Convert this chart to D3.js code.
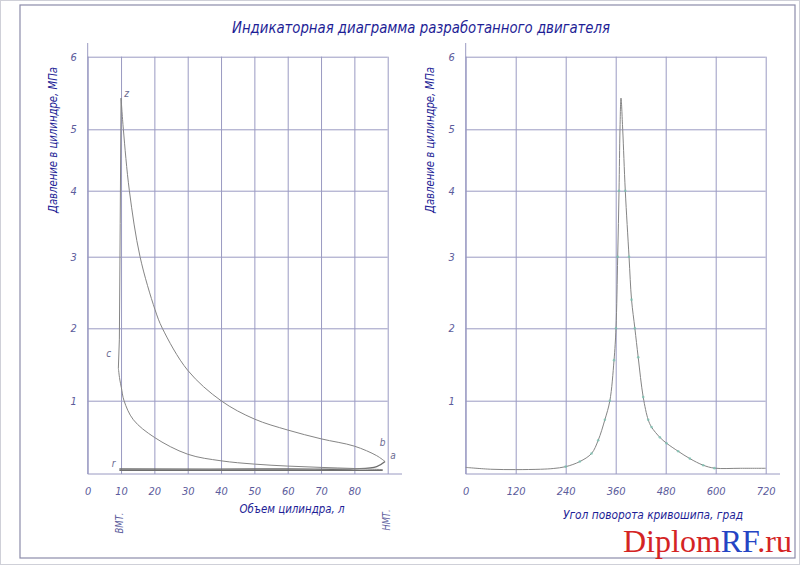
<!DOCTYPE html>
<html>
<head>
<meta charset="utf-8">
<script src="https://cdn.jsdelivr.net/npm/d3@7"></script>
<style>
  body { margin: 0; background: #fff; }
  svg text { font-family: "DejaVu Sans Condensed", "DejaVu Sans", sans-serif; font-style: italic; }
</style>
</head>
<body>
<script>
// --- values ---
const pressureTicks = [1, 2, 3, 4, 5, 6];                       // МПа
const volumeTicks = [0, 10, 20, 30, 40, 50, 60, 70, 80, 90];    // л
const angleTicks = [0, 120, 240, 360, 480, 600, 720];           // град

// indicator diagram p-V, one array per process [V, p]
const intake = [[9.5, 0.05], [88.5, 0.05]];
const compression = [[88.5, 0.06], [80, 0.075], [70, 0.09], [60, 0.108], [50, 0.135], [40, 0.18],
  [30, 0.27], [20, 0.5], [13.7, 0.74], [10.9, 1.0], [10.1, 1.18], [9.6, 1.3], [9.2, 1.45]];
const combustion = [[9.2, 1.45], [9.5, 1.85], [9.75, 3.5], [10.0, 5.43]];
const expansion = [[10.0, 5.43], [10.7, 5.0], [12.5, 4.0], [15.7, 3.0], [20.2, 2.26], [22.4, 2.0],
  [30, 1.42], [40, 1.0], [50, 0.75], [60, 0.6], [70, 0.48], [80, 0.38], [86.7, 0.25], [89.2, 0.17]];
const exhaust = [[89.2, 0.17], [86.7, 0.10], [80, 0.07], [60, 0.068], [9.5, 0.068]];

// pressure vs crank angle [deg, p]
const crankCurve = [[0, 0.09], [60, 0.065], [120, 0.06], [180, 0.065], [210, 0.075], [240, 0.1],
  [274, 0.17], [302, 0.28], [318, 0.46], [334, 0.74], [346, 1.0], [356, 1.56], [360.7, 2.0],
  [364.8, 3.0], [368, 4.0], [370.3, 5.0], [372.7, 5.43], [376.8, 5.0], [383, 4.0], [392, 3.0],
  [398, 2.4], [406, 2.0], [414, 1.6], [426, 1.05], [438, 0.74], [446, 0.64], [466, 0.5],
  [482, 0.42], [510, 0.31], [538, 0.21], [570, 0.12], [597, 0.08], [660, 0.078], [720, 0.078]];

// point labels of the cycle [text, V, p]
const cycleLabels = [["z", 11.7, 5.45], ["c", 6.3, 1.6], ["r", 7.8, 0.1], ["b", 88.5, 0.38], ["a", 91.6, 0.2]];

const titleText = "Индикаторная диаграмма разработанного двигателя";
const yTitle = "Давление в цилиндре, МПа";
const xTitleLeft = "Объем цилиндра, л";
const xTitleRight = "Угол поворота кривошипа, град";

// --- drawing ---
const gridColor = "#9a9ac2";
const curveColor = "#858585";
const labelColor = "#5c5c9c";
const titleColor = "#1e1e96";

const svg = d3.select("body").append("svg")
    .attr("width", 800)
    .attr("height", 565);

// sheet frame
svg.append("rect").attr("x", 0.5).attr("y", 0.5).attr("width", 799).attr("height", 564)
    .attr("fill", "none").attr("stroke", "#cfd0d8");
svg.append("rect").attr("x", 20).attr("y", 5).attr("width", 775).attr("height", 553)
    .attr("fill", "none").attr("stroke", "#8c8caa").attr("stroke-width", 1.2);

// the drawing's pressure grid is not evenly spaced, so the scale follows it
const yP = d3.scaleLinear()
    .domain([0, 1, 2, 3, 4, 5, 6])
    .range([474, 400.7, 328.3, 256.7, 190.7, 129.3, 56.7]);
const xV = d3.scaleLinear().domain([0, 90]).range([87.7, 387.7]);
const xA = d3.scaleLinear().domain([0, 720]).range([465.7, 765.7]);

function styleAxis(g) {
    g.select(".domain").remove();
    g.attr("font-family", null).attr("font-size", 11);
    g.selectAll(".tick line").attr("stroke", gridColor);
    g.selectAll(".tick text").attr("fill", labelColor);
}

function drawPanel(x, lastX, axisEnd, ticks, hideLast) {
    svg.append("g")
        .attr("transform", "translate(0," + yP(0) + ")")
        .call(d3.axisBottom(x).tickValues(ticks)
            .tickSize(-(yP(0) - yP(6)))
            .tickPadding(13)
            .tickFormat(d => (hideLast && d === lastX) ? "" : d))
        .call(styleAxis);

    svg.append("g")
        .attr("transform", "translate(" + x(0) + ",0)")
        .call(d3.axisLeft(yP).tickValues(pressureTicks)
            .tickSize(-(x(lastX) - x(0)))
            .tickPadding(11)
            .tickFormat(d3.format("d")))
        .call(styleAxis);

    // axis lines
    svg.append("line").attr("x1", x(0)).attr("x2", x(0)).attr("y1", 43).attr("y2", yP(0))
        .attr("stroke", gridColor);
    svg.append("line").attr("x1", x(0)).attr("x2", axisEnd).attr("y1", yP(0)).attr("y2", yP(0))
        .attr("stroke", gridColor);
}

drawPanel(xV, 90, 402, volumeTicks, true);
drawPanel(xA, 720, 780, angleTicks, false);

// p-V cycle
const pvLine = d3.line().x(d => xV(d[0])).y(d => yP(d[1]));
const pvSmooth = d3.line().x(d => xV(d[0])).y(d => yP(d[1])).curve(d3.curveCatmullRom.alpha(0.5));

[intake, exhaust].forEach(s => {
    svg.append("path").attr("d", pvSmooth(s)).attr("fill", "none")
        .attr("stroke", "#6e6e6e").attr("stroke-width", 1.3);
});
svg.append("path").attr("d", pvSmooth(compression)).attr("fill", "none").attr("stroke", curveColor);
svg.append("path").attr("d", pvLine(combustion)).attr("fill", "none").attr("stroke", curveColor);
svg.append("path").attr("d", pvSmooth(expansion)).attr("fill", "none").attr("stroke", curveColor);

svg.selectAll(".cyc").data(cycleLabels).enter().append("text")
    .attr("x", d => xV(d[1])).attr("y", d => yP(d[2]))
    .attr("font-size", 10).attr("fill", "#6a6a90").attr("text-anchor", "middle")
    .text(d => d[0]);

// p-phi curve
const crankLine = d3.line().x(d => xA(d[0])).y(d => yP(d[1])).curve(d3.curveCatmullRom.alpha(0.5));
svg.append("path").attr("d", crankLine(crankCurve)).attr("fill", "none").attr("stroke", curveColor);
svg.selectAll(".mk").data(crankCurve.filter(d => d[0] >= 240 && d[0] <= 600 && d[1] < 4.5))
    .enter().append("circle")
    .attr("cx", d => xA(d[0])).attr("cy", d => yP(d[1])).attr("r", 1.3)
    .attr("fill", "#78c2b0").attr("opacity", 0.75);

// titles
svg.append("text").attr("x", 421).attr("y", 33).attr("text-anchor", "middle")
    .attr("font-size", 16).attr("fill", titleColor)
    .attr("textLength", 378).attr("lengthAdjust", "spacingAndGlyphs")
    .text(titleText);

[[53, 140], [430, 140]].forEach(p => {
    svg.append("text")
        .attr("transform", "translate(" + p[0] + "," + p[1] + ") rotate(-90)")
        .attr("text-anchor", "middle").attr("dy", "0.35em")
        .attr("font-size", 12.5).attr("fill", titleColor)
        .attr("textLength", 146).attr("lengthAdjust", "spacingAndGlyphs")
        .text(yTitle);
});

svg.append("text").attr("x", 292).attr("y", 513).attr("text-anchor", "middle")
    .attr("font-size", 13).attr("fill", titleColor)
    .attr("textLength", 105).attr("lengthAdjust", "spacingAndGlyphs")
    .text(xTitleLeft);
svg.append("text").attr("x", 653).attr("y", 519).attr("text-anchor", "middle")
    .attr("font-size", 13).attr("fill", titleColor)
    .attr("textLength", 180).attr("lengthAdjust", "spacingAndGlyphs")
    .text(xTitleRight);

// dead centre marks
[["ВМТ.", xV(9.5), 523], ["НМТ.", xV(89.5), 520]].forEach(m => {
    svg.append("text")
        .attr("transform", "translate(" + m[1] + "," + m[2] + ") rotate(-90)")
        .attr("text-anchor", "middle").attr("dy", "0.35em")
        .attr("font-size", 11).attr("fill", labelColor)
        .attr("textLength", 21).attr("lengthAdjust", "spacingAndGlyphs")
        .text(m[0]);
});

// watermark
const wm = svg.append("text").attr("x", 623).attr("y", 552)
    .attr("font-size", 32).attr("textLength", 169).attr("lengthAdjust", "spacingAndGlyphs")
    .style("font-family", "'Liberation Serif', 'DejaVu Serif', serif").style("font-style", "normal");
wm.append("tspan").attr("fill", "#d42424").text("Diplom");
wm.append("tspan").attr("fill", "#2444c4").text("RF");
wm.append("tspan").attr("fill", "#d42424").text(".ru");
</script>
</body>
</html>
